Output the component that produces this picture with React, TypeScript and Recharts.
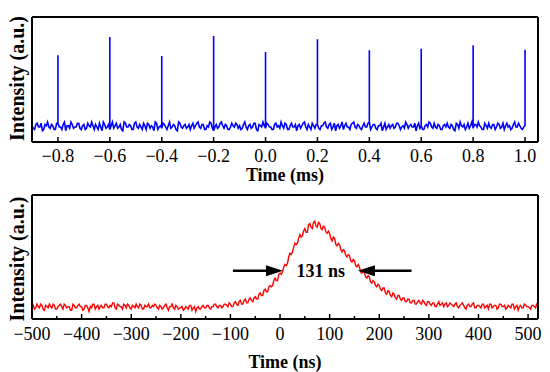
import React from 'react';
import { LineChart, Line, XAxis, YAxis, ReferenceLine, ReferenceDot } from 'recharts';

const FONT = '"Liberation Serif", "Times New Roman", Times, serif';

// ---------- top panel (ms) ----------
const topStart = -0.9;
const topStep = 0.01;
// samples at -0.900, -0.890, ... 1.000
const topNoise = [
  0.13, 0.10, 0.15, 0.12, 0.09, 0.14, 0.16, 0.11, 0.13, 0.10,
  0.15, 0.12, 0.14, 0.09, 0.13, 0.16, 0.11, 0.12, 0.15, 0.10,
  0.14, 0.11, 0.13, 0.16, 0.10, 0.12, 0.15, 0.09, 0.14, 0.12,
  0.10, 0.16, 0.13, 0.11, 0.14, 0.09, 0.15, 0.12, 0.13, 0.10,
  0.16, 0.11, 0.12, 0.15, 0.10, 0.14, 0.13, 0.09, 0.15, 0.12,
  0.11, 0.14, 0.10, 0.16, 0.12, 0.13, 0.09, 0.15, 0.11, 0.14,
  0.12, 0.10, 0.15, 0.13, 0.16, 0.11, 0.14, 0.10, 0.12, 0.15,
  0.09, 0.14, 0.12, 0.16, 0.11, 0.13, 0.10, 0.15, 0.12, 0.14,
  0.13, 0.11, 0.16, 0.10, 0.14, 0.12, 0.15, 0.09, 0.13, 0.16,
  0.11, 0.14, 0.12, 0.10, 0.15, 0.13, 0.16, 0.11, 0.14, 0.10,
  0.15, 0.12, 0.09, 0.14, 0.13, 0.16, 0.10, 0.12, 0.15, 0.11,
  0.14, 0.10, 0.13, 0.16, 0.11, 0.15, 0.12, 0.09, 0.14, 0.13,
  0.10, 0.15, 0.12, 0.14, 0.16, 0.11, 0.13, 0.10, 0.15, 0.12,
  0.16, 0.12, 0.14, 0.10, 0.13, 0.09, 0.15, 0.12, 0.11, 0.14,
  0.12, 0.15, 0.10, 0.13, 0.16, 0.11, 0.14, 0.12, 0.09, 0.15,
  0.13, 0.10, 0.14, 0.16, 0.12, 0.15, 0.11, 0.13, 0.10, 0.14,
  0.15, 0.11, 0.13, 0.09, 0.14, 0.16, 0.12, 0.10, 0.15, 0.13,
  0.11, 0.14, 0.16, 0.12, 0.10, 0.13, 0.15, 0.11, 0.14, 0.12,
  0.14, 0.12, 0.10, 0.15, 0.13, 0.11, 0.16, 0.12, 0.13, 0.10,
  0.13,
];
// samples at -0.895, -0.885, ... 0.995
const topNoiseMid = [
  0.11, 0.14, 0.12, 0.15, 0.10, 0.13, 0.12, 0.14, 0.10, 0.15,
  0.12, 0.10, 0.16, 0.13, 0.11, 0.14, 0.12, 0.15, 0.11, 0.13,
  0.10, 0.15, 0.12, 0.13, 0.14, 0.10, 0.12, 0.16, 0.11, 0.14,
  0.13, 0.11, 0.15, 0.12, 0.10, 0.16, 0.12, 0.14, 0.10, 0.15,
  0.12, 0.14, 0.10, 0.13, 0.15, 0.11, 0.12, 0.16, 0.10, 0.13,
  0.15, 0.12, 0.13, 0.11, 0.14, 0.10, 0.16, 0.12, 0.13, 0.11,
  0.14, 0.13, 0.11, 0.15, 0.12, 0.14, 0.10, 0.13, 0.16, 0.11,
  0.12, 0.11, 0.15, 0.13, 0.14, 0.10, 0.12, 0.13, 0.15, 0.11,
  0.10, 0.14, 0.12, 0.13, 0.11, 0.15, 0.10, 0.14, 0.12, 0.13,
  0.15, 0.12, 0.10, 0.14, 0.12, 0.11, 0.13, 0.15, 0.10, 0.13,
  0.12, 0.14, 0.13, 0.11, 0.15, 0.12, 0.14, 0.10, 0.13, 0.14,
  0.11, 0.13, 0.15, 0.12, 0.14, 0.10, 0.15, 0.13, 0.11, 0.16,
  0.13, 0.12, 0.10, 0.15, 0.12, 0.14, 0.11, 0.13, 0.12, 0.15,
  0.10, 0.14, 0.11, 0.13, 0.15, 0.12, 0.10, 0.14, 0.13, 0.11,
  0.15, 0.13, 0.12, 0.11, 0.14, 0.13, 0.12, 0.15, 0.13, 0.11,
  0.10, 0.13, 0.12, 0.15, 0.11, 0.12, 0.14, 0.10, 0.13, 0.12,
  0.12, 0.14, 0.10, 0.15, 0.11, 0.13, 0.14, 0.12, 0.11, 0.16,
  0.14, 0.12, 0.13, 0.10, 0.15, 0.11, 0.12, 0.14, 0.10, 0.15,
  0.11, 0.15, 0.13, 0.12, 0.10, 0.14, 0.12, 0.15, 0.11, 0.12,
];
const peakTimes = [-0.8, -0.6, -0.4, -0.2, 0.0, 0.2, 0.4, 0.6, 0.8, 1.0];
const peakValues = [0.694, 0.84, 0.688, 0.848, 0.72, 0.822, 0.734, 0.747, 0.774, 0.739];
const topTicks = [-0.8, -0.6, -0.4, -0.2, 0.0, 0.2, 0.4, 0.6, 0.8, 1.0];
const topDomain = [-0.9, 1.05];

// ---------- bottom panel (ns) ----------
const bottomStart = -500;
const bottomStep = 5;
// samples at -500, -495, ... 520
const bottomValues = [
  0.10, 0.08, 0.12, 0.09, 0.11, 0.07, 0.10, 0.12, 0.09, 0.11,
  0.08, 0.11, 0.10, 0.12, 0.09, 0.10, 0.07, 0.11, 0.09, 0.12,
  0.10, 0.08, 0.11, 0.06, 0.09, 0.12, 0.10, 0.08, 0.11, 0.09,
  0.12, 0.09, 0.10, 0.13, 0.08, 0.11, 0.10, 0.12, 0.09, 0.11,
  0.08, 0.10, 0.12, 0.09, 0.11, 0.08, 0.10, 0.12, 0.09, 0.10,
  0.11, 0.08, 0.10, 0.09, 0.12, 0.07, 0.10, 0.09, 0.11, 0.08,
  0.09, 0.07, 0.10, 0.08, 0.11, 0.09, 0.06, 0.10, 0.08, 0.11,
  0.09, 0.11, 0.08, 0.10, 0.12, 0.09, 0.11, 0.10, 0.12, 0.10,
  0.12, 0.10, 0.14, 0.11, 0.15, 0.12, 0.16, 0.13, 0.17, 0.14,
  0.18, 0.16, 0.21, 0.19, 0.24, 0.22, 0.27, 0.27, 0.33, 0.31,
  0.37, 0.38, 0.44, 0.45, 0.53, 0.54, 0.61, 0.61, 0.68, 0.67,
  0.73, 0.70, 0.77, 0.73, 0.79, 0.74, 0.77, 0.72, 0.74, 0.69,
  0.69, 0.63, 0.65, 0.59, 0.60, 0.54, 0.55, 0.50, 0.51, 0.46,
  0.47, 0.42, 0.42, 0.37, 0.38, 0.33, 0.34, 0.29, 0.30, 0.26,
  0.27, 0.23, 0.25, 0.20, 0.22, 0.18, 0.20, 0.16, 0.19, 0.15,
  0.17, 0.14, 0.16, 0.13, 0.15, 0.12, 0.15, 0.12, 0.14, 0.11,
  0.14, 0.11, 0.13, 0.10, 0.14, 0.12, 0.10, 0.13, 0.11, 0.12,
  0.10, 0.13, 0.09, 0.12, 0.11, 0.08, 0.12, 0.10, 0.13, 0.09,
  0.11, 0.09, 0.12, 0.10, 0.08, 0.12, 0.10, 0.11, 0.09, 0.12,
  0.10, 0.08, 0.11, 0.09, 0.12, 0.10, 0.07, 0.11, 0.09, 0.11,
  0.10, 0.08, 0.11, 0.09, 0.10,
];
// samples at -497.5, -492.5, ... 517.5
const bottomValuesMid = [
  0.11, 0.09, 0.10, 0.12, 0.08, 0.11, 0.09, 0.10, 0.12, 0.08,
  0.10, 0.12, 0.08, 0.11, 0.10, 0.07, 0.12, 0.09, 0.11, 0.10,
  0.07, 0.11, 0.09, 0.10, 0.12, 0.08, 0.11, 0.10, 0.09, 0.12,
  0.10, 0.11, 0.13, 0.09, 0.12, 0.10, 0.08, 0.11, 0.12, 0.09,
  0.11, 0.09, 0.10, 0.12, 0.08, 0.11, 0.10, 0.09, 0.11, 0.12,
  0.09, 0.11, 0.08, 0.11, 0.09, 0.10, 0.12, 0.08, 0.10, 0.09,
  0.10, 0.08, 0.09, 0.11, 0.07, 0.10, 0.09, 0.08, 0.10, 0.09,
  0.11, 0.09, 0.10, 0.12, 0.10, 0.11, 0.09, 0.12, 0.11, 0.13,
  0.10, 0.13, 0.12, 0.14, 0.12, 0.15, 0.13, 0.16, 0.15, 0.17,
  0.16, 0.20, 0.19, 0.23, 0.22, 0.26, 0.26, 0.31, 0.31, 0.36,
  0.36, 0.42, 0.43, 0.50, 0.52, 0.58, 0.60, 0.65, 0.66, 0.71,
  0.70, 0.76, 0.74, 0.78, 0.75, 0.78, 0.73, 0.75, 0.70, 0.71,
  0.65, 0.66, 0.60, 0.61, 0.56, 0.56, 0.51, 0.52, 0.47, 0.48,
  0.43, 0.44, 0.38, 0.39, 0.34, 0.35, 0.30, 0.31, 0.27, 0.28,
  0.24, 0.25, 0.21, 0.23, 0.19, 0.21, 0.17, 0.19, 0.16, 0.17,
  0.14, 0.16, 0.13, 0.15, 0.12, 0.14, 0.13, 0.15, 0.12, 0.14,
  0.12, 0.13, 0.10, 0.12, 0.11, 0.13, 0.12, 0.10, 0.13, 0.11,
  0.12, 0.10, 0.11, 0.13, 0.09, 0.11, 0.10, 0.12, 0.09, 0.11,
  0.10, 0.12, 0.09, 0.11, 0.12, 0.09, 0.11, 0.08, 0.12, 0.10,
  0.11, 0.09, 0.10, 0.12, 0.08, 0.11, 0.10, 0.09, 0.12, 0.10,
  0.09, 0.11, 0.10, 0.12,
];
const bottomMajorTicks = [-500, -400, -300, -200, -100, 0, 100, 200, 300, 400, 500];
const bottomMinorTicks = [-450, -350, -250, -150, -50, 50, 150, 250, 350, 450];
const bottomDomain = [-500, 520];

// FWHM annotation
const fwhmText = '131 ns';
const fwhmLevel = 0.39;
const fwhmLeftTip = 6;
const fwhmRightTip = 157;
const arrowLeftTail = -95;
const arrowRightTail = 265;
const fwhmTextX = 82;

// ---------- build data ----------
const topData: { t: number; v: number }[] = [];
topNoise.forEach((v, i) => {
  const t = Math.round((topStart + i * topStep) * 1000) / 1000;
  topData.push({ t, v });
  const k = peakTimes.findIndex((p) => Math.abs(p - t) < 1e-9);
  if (k >= 0) {
    topData.push({ t, v: peakValues[k] });
    topData.push({ t, v });
  }
  if (i < topNoiseMid.length) {
    topData.push({ t: Math.round((t + topStep / 2) * 1000) / 1000, v: topNoiseMid[i] });
  }
});

const bottomData: { t: number; v: number }[] = [];
bottomValues.forEach((v, i) => {
  const t = bottomStart + i * bottomStep;
  bottomData.push({ t, v });
  if (i < bottomValuesMid.length) bottomData.push({ t: t + bottomStep / 2, v: bottomValuesMid[i] });
});

const minus = (s: string) => s.replace('-', '\u2212');

const makeTick = (majors: number[], labelDy: number, fmt: (v: number) => string) => (props: any) => {
  const { x, y, payload } = props;
  const val = payload.value as number;
  const isMajor = majors.some((m) => Math.abs(m - val) < 1e-9);
  return (
    <g>
      <line x1={x} x2={x} y1={y} y2={y - (isMajor ? 5 : 3)} stroke="#000" strokeWidth={1.5} />
      {isMajor && (
        <text x={x} y={y + labelDy} textAnchor="middle" fontFamily={FONT} fontSize={18} fill="#000">
          {fmt(val)}
        </text>
      )}
    </g>
  );
};

const xTitle = (text: string, dy: number) => (props: any) => {
  const vb = props.viewBox || {};
  return (
    <text
      x={vb.x + vb.width / 2}
      y={vb.y + dy}
      textAnchor="middle"
      fontFamily={FONT}
      fontSize={18}
      fontWeight="bold"
      fill="#000"
    >
      {text}
    </text>
  );
};

const yTitle = (text: string, baseX: number, dyc: number) => (props: any) => {
  const vb = props.viewBox || {};
  const cy = vb.y + vb.height / 2 + dyc;
  return (
    <text
      x={baseX}
      y={cy}
      transform={`rotate(-90, ${baseX}, ${cy})`}
      textAnchor="middle"
      fontFamily={FONT}
      fontSize={20}
      fontWeight="bold"
      fill="#000"
    >
      {text}
    </text>
  );
};

const Arrow = (props: any) => {
  const { x1, y1, x2, y2 } = props;
  const dir = x2 > x1 ? 1 : -1;
  const head = 17;
  const half = 5.5;
  return (
    <g>
      <line x1={x1} y1={y1} x2={x2 - dir * head + dir * 1} y2={y2} stroke="#000" strokeWidth={2.5} />
      <polygon
        points={`${x2},${y2} ${x2 - dir * head},${y2 - half} ${x2 - dir * head},${y2 + half}`}
        fill="#000"
      />
    </g>
  );
};

const FwhmLabel = (props: any) => {
  const { cx, cy } = props;
  return (
    <text x={cx} y={cy + 6} textAnchor="middle" fontFamily={FONT} fontSize={18} fontWeight="bold" fill="#000">
      {fwhmText}
    </text>
  );
};

const frame = { stroke: '#000', strokeWidth: 2 };

export default function App() {
  return (
    <div style={{ position: 'absolute', left: 0, top: 0, width: 550, height: 372, background: '#fff' }}>
      <div style={{ position: 'absolute', left: 0, top: 0 }}>
        <LineChart width={550} height={186} data={topData} margin={{ top: 16, right: 11, bottom: 0, left: 31 }}>
          <XAxis
            dataKey="t"
            type="number"
            domain={topDomain}
            ticks={topTicks}
            interval={0}
            allowDataOverflow
            height={44}
            tickSize={0}
            tickMargin={0}
            tickLine={false}
            axisLine={frame}
            tick={makeTick(topTicks, 20, (v) => minus(v.toFixed(1)))}
            label={{ content: xTitle('Time (ms)', 38.5) }}
          />
          <XAxis xAxisId="top" orientation="top" type="number" domain={topDomain} height={1} tick={false} tickLine={false} axisLine={frame} />
          <YAxis type="number" domain={[0, 1]} width={1} tick={false} tickLine={false} axisLine={frame} label={{ content: yTitle('Intensity (a.u.)', 23.5, -1) }} />
          <YAxis yAxisId="r" orientation="right" type="number" domain={[0, 1]} width={1} tick={false} tickLine={false} axisLine={frame} />
          <Line dataKey="v" stroke="#0000ff" strokeWidth={1.6} dot={false} activeDot={false} isAnimationActive={false} />
        </LineChart>
      </div>
      <div style={{ position: 'absolute', left: 0, top: 186 }}>
        <LineChart width={550} height={186} data={bottomData} margin={{ top: 8, right: 11, bottom: 0, left: 31 }}>
          <XAxis
            dataKey="t"
            type="number"
            domain={bottomDomain}
            ticks={[...bottomMajorTicks, ...bottomMinorTicks].sort((a, b) => a - b)}
            interval={0}
            allowDataOverflow
            height={53}
            tickSize={0}
            tickMargin={0}
            tickLine={false}
            axisLine={frame}
            tick={makeTick(bottomMajorTicks, 21, (v) => minus(String(v)))}
            label={{ content: xTitle('Time (ns)', 49) }}
          />
          <XAxis xAxisId="top" orientation="top" type="number" domain={bottomDomain} height={1} tick={false} tickLine={false} axisLine={frame} />
          <YAxis type="number" domain={[0, 1]} width={1} tick={false} tickLine={false} axisLine={frame} label={{ content: yTitle('Intensity (a.u.)', 23.5, 2) }} />
          <YAxis yAxisId="r" orientation="right" type="number" domain={[0, 1]} width={1} tick={false} tickLine={false} axisLine={frame} />
          <Line dataKey="v" stroke="#ff0000" strokeWidth={1.4} dot={false} activeDot={false} isAnimationActive={false} />
          <ReferenceLine
            segment={[{ x: arrowLeftTail, y: fwhmLevel }, { x: fwhmLeftTip, y: fwhmLevel }]}
            shape={Arrow}
          />
          <ReferenceLine
            segment={[{ x: arrowRightTail, y: fwhmLevel }, { x: fwhmRightTip, y: fwhmLevel }]}
            shape={Arrow}
          />
          <ReferenceDot x={fwhmTextX} y={fwhmLevel} r={0} shape={FwhmLabel} />
        </LineChart>
      </div>
    </div>
  );
}
